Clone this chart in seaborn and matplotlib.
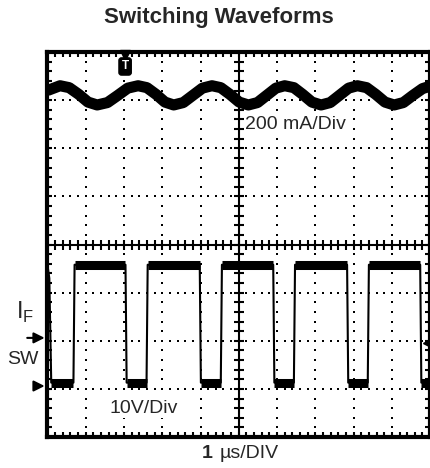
import numpy as np
import matplotlib
matplotlib.use('Agg')
import matplotlib.pyplot as plt
from matplotlib.ticker import MultipleLocator
import seaborn as sns

# scope screen, x in divisions (1 us/div), y in divisions (0..8)
# top trace: inductor current (200 mA/div)
if_time = [0.00, 0.33, 0.57, 0.82, 1.06, 1.30, 1.57, 1.84, 2.10, 2.37, 2.60, 2.84,
           3.07, 3.30, 3.55, 3.80, 4.05, 4.30, 4.53, 4.77, 5.01, 5.25, 5.49, 5.73,
           5.97, 6.20, 6.44, 6.67, 6.91, 7.15, 7.39, 7.63, 7.87, 8.10, 8.34, 8.58,
           8.82, 9.06, 9.30, 9.55, 9.80, 10.00]
if_level = [7.20, 7.30, 7.26, 7.12, 6.96, 6.90, 6.95, 7.10, 7.25, 7.30, 7.26, 7.12,
            6.96, 6.90, 6.95, 7.10, 7.25, 7.30, 7.26, 7.12, 6.96, 6.90, 6.95, 7.10,
            7.25, 7.30, 7.26, 7.12, 6.96, 6.90, 6.95, 7.10, 7.25, 7.30, 7.26, 7.12,
            6.96, 6.90, 6.95, 7.10, 7.24, 7.29]

# bottom trace: switch node (10 V/div)
sw_time = [0.00, 0.05, 0.10, 0.68, 0.71, 2.04, 2.07, 2.59, 2.62, 3.98, 4.01, 4.53,
           4.56, 5.90, 5.93, 6.44, 6.47, 7.83, 7.86, 8.37, 8.40, 9.74, 9.77, 10.00]
sw_level = [3.58, 3.30, 1.13, 1.13, 3.58, 3.58, 1.13, 1.13, 3.58, 3.58, 1.13, 1.13,
            3.58, 3.58, 1.13, 1.13, 3.58, 3.58, 1.13, 1.13, 3.58, 3.58, 1.13, 1.13]

sns.set_style('white')
plt.rcParams['font.family'] = ['Liberation Sans', 'DejaVu Sans']

fig = plt.figure(figsize=(4.31, 4.68), dpi=100)
ax = fig.add_axes([0.110, 0.0662, 0.888, 0.8226])
ax.set_xlim(0, 10)
ax.set_ylim(0, 8)

# dotted graticule
for xv in [1, 2, 3, 4, 6, 7, 8, 9]:
    ys = np.arange(0, 8.01, 0.2)
    ax.scatter(np.full_like(ys, xv), ys, s=2.5, marker='s', color='black', lw=0, zorder=1)
for yv in [1, 2, 3, 5, 6, 7]:
    xs = np.arange(0, 10.01, 0.2)
    ax.scatter(xs, np.full_like(xs, yv), s=2.5, marker='s', color='black', lw=0, zorder=1)

# center cross with ticks
ax.axvline(5, color='black', lw=1.5, zorder=1)
ax.axhline(4, color='black', lw=1.5, zorder=1)
ty = np.arange(0, 8.01, 0.2)
ax.plot(np.full_like(ty, 5), ty, ls='none', marker='_', ms=7, mew=1.5, color='black', zorder=1)
tx = np.arange(0, 10.01, 0.2)
ax.plot(tx, np.full_like(tx, 4), ls='none', marker='|', ms=7, mew=1.5, color='black', zorder=1)

# traces
sns.lineplot(x=if_time, y=if_level, color='black', lw=8, ax=ax, zorder=3,
             solid_capstyle='butt')
sns.lineplot(x=sw_time, y=sw_level, color='black', lw=1.5, ax=ax, zorder=3)
for i in range(len(sw_time) - 1):
    if sw_level[i] == sw_level[i + 1]:
        ax.plot(sw_time[i:i + 2], sw_level[i:i + 2], color='black', lw=6.5,
                solid_capstyle='butt', zorder=3)

# frame ticks
ax.xaxis.set_major_locator(MultipleLocator(1))
ax.xaxis.set_minor_locator(MultipleLocator(0.2))
ax.yaxis.set_major_locator(MultipleLocator(1))
ax.yaxis.set_minor_locator(MultipleLocator(0.2))
ax.tick_params(which='both', direction='in', length=3.5, width=1.5, color='black',
               top=True, right=True, bottom=True, left=True,
               labelbottom=False, labelleft=False)
for sp in ax.spines.values():
    sp.set_linewidth(3)
    sp.set_color('black')

# trigger marker
ax.plot([2.03], [7.93], marker='v', ms=7, color='black', clip_on=False, zorder=4)
ax.text(2.03, 7.70, 'T', color='white', fontsize=8.5, fontweight='bold', ha='center',
        va='center', zorder=4,
        bbox=dict(boxstyle='round,pad=0.22', fc='black', ec='black'))
ax.plot([9.9], [1.95], marker='<', ms=5, color='black', zorder=4)

# channel labels
white = dict(fc='white', ec='none', pad=1)
ax.text(5.16, 6.49, '200 mA/Div', fontsize=14, ha='left', va='center', zorder=2, bbox=white)
ax.text(1.63, 0.60, '10V/Div', fontsize=14, ha='left', va='center', zorder=2, bbox=white)
ax.text(-0.58, 2.60, r'I$_\mathregular{F}$', fontsize=17, ha='center', va='center',
        clip_on=False)
ax.text(-0.63, 1.62, 'SW', fontsize=14, ha='center', va='center', clip_on=False)
ax.annotate('', xy=(0, 2.06), xytext=(-0.60, 2.06), annotation_clip=False,
            arrowprops=dict(arrowstyle='-|>', color='black', lw=1.5, mutation_scale=16))
ax.annotate('', xy=(0, 1.06), xytext=(-0.34, 1.06), annotation_clip=False,
            arrowprops=dict(arrowstyle='-|>', color='black', lw=1.5, mutation_scale=16))

fig.text(219 / 431, 1 - 18 / 468, 'Switching Waveforms', fontsize=16, fontweight='bold',
         ha='center', va='center')
fig.text(213 / 431, 1 - 454 / 468, '1', fontsize=14, fontweight='bold', ha='right',
         va='center')
fig.text(220 / 431, 1 - 454 / 468, 'µs/DIV', fontsize=14, ha='left', va='center')

fig.savefig('out.png', dpi=100)
